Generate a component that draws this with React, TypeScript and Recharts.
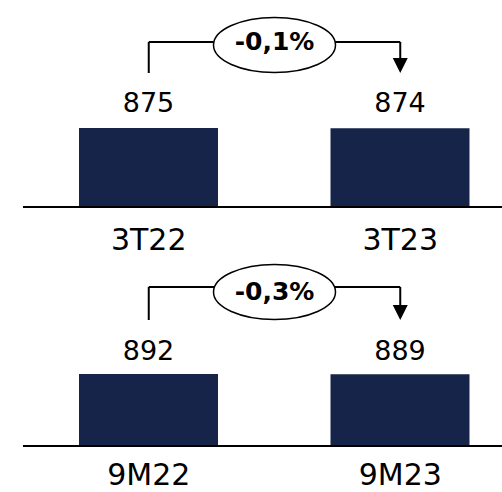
import React from 'react';
import { ComposedChart, Bar, Line, XAxis, YAxis, LabelList } from 'recharts';

// Data
const topCategories = ['3T22', '3T23'];
const topValues = [875, 874];
const bottomCategories = ['9M22', '9M23'];
const bottomValues = [892, 889];

const BAR_COLOR = '#172449';
const FONT = '"DejaVu Sans", sans-serif';

const pctLabel = (values: number[]) => {
  const pct = ((values[1] - values[0]) / values[0]) * 100;
  return `${pct.toFixed(1).replace('.', ',')}%`;
};

interface PanelProps {
  categories: string[];
  values: number[];
  top: number;
  yMax: number;
  marginTop: number;
  marginBottom: number;
  tickMargin: number;
  labelOffset: number;
  riser: number;
  ellipseDy: number;
  textDy: number;
}

const Panel: React.FC<PanelProps> = ({
  categories,
  values,
  top,
  yMax,
  marginTop,
  marginBottom,
  tickMargin,
  labelOffset,
  riser,
  ellipseDy,
  textDy,
}) => {
  const data = categories.map((cat, i) => ({ cat, value: values[i], level: yMax }));
  const change = pctLabel(values);

  // bracket: riser on the first bar, arrow + bubble on the second
  const renderDot = (props: any) => {
    const { cx, cy, index, points } = props;
    if (index === 0) {
      return <line key="r0" x1={cx} y1={cy} x2={cx} y2={cy + riser} stroke="#000" strokeWidth={2} />;
    }
    const prev = points && points[0] ? points[0] : { x: cx - 251.5, y: cy };
    const mx = (prev.x + cx) / 2;
    return (
      <g key="r1">
        <line x1={cx} y1={cy} x2={cx} y2={cy + riser - 12} stroke="#000" strokeWidth={2} />
        <polygon points={`${cx - 7.5},${cy + riser - 15} ${cx + 7.5},${cy + riser - 15} ${cx},${cy + riser}`} fill="#000" />
        <ellipse cx={mx} cy={cy + ellipseDy} rx={61} ry={27.5} fill="#fff" stroke="#000" strokeWidth={1.5} />
        <text x={mx} y={cy + textDy} textAnchor="middle" fontFamily={FONT} fontWeight="bold" fontSize={25} fill="#000">
          {change}
        </text>
      </g>
    );
  };

  return (
    <div style={{ position: 'absolute', left: 0, top }}>
      <ComposedChart
        width={530}
        height={262}
        data={data}
        margin={{ top: marginTop, right: 4, bottom: marginBottom, left: 23 }}
        style={{ overflow: 'visible' }}
      >
        <XAxis
          dataKey="cat"
          axisLine={{ stroke: '#000', strokeWidth: 2 }}
          tickLine={false}
          tickMargin={tickMargin}
          height={30}
          tick={{ fill: '#000', fontSize: 30, fontFamily: FONT }}
          interval={0}
        />
        <YAxis hide domain={[0, yMax]} />
        <Bar dataKey="value" fill={BAR_COLOR} barSize={139} isAnimationActive={false}>
          <LabelList
            dataKey="value"
            position="top"
            offset={labelOffset}
            fill="#000"
            fontSize={27}
            fontFamily={FONT}
          />
        </Bar>
        <Line
          dataKey="level"
          stroke="#000"
          strokeWidth={2}
          dot={renderDot}
          activeDot={false}
          isAnimationActive={false}
        />
      </ComposedChart>
    </div>
  );
};

export default function App() {
  return (
    <div
      style={{
        position: 'absolute',
        left: 0,
        top: 0,
        width: 502,
        height: 492,
        overflow: 'hidden',
        background: '#fff',
      }}
    >
      <Panel
        categories={topCategories}
        values={topValues}
        top={0}
        yMax={1830}
        marginTop={42}
        marginBottom={25}
        tickMargin={16}
        labelOffset={16}
        riser={31}
        ellipseDy={3}
        textDy={8}
      />
      <Panel
        categories={bottomCategories}
        values={bottomValues}
        top={246}
        yMax={1970}
        marginTop={41}
        marginBottom={32}
        tickMargin={12}
        labelOffset={14}
        riser={33}
        ellipseDy={5}
        textDy={13}
      />
    </div>
  );
}
